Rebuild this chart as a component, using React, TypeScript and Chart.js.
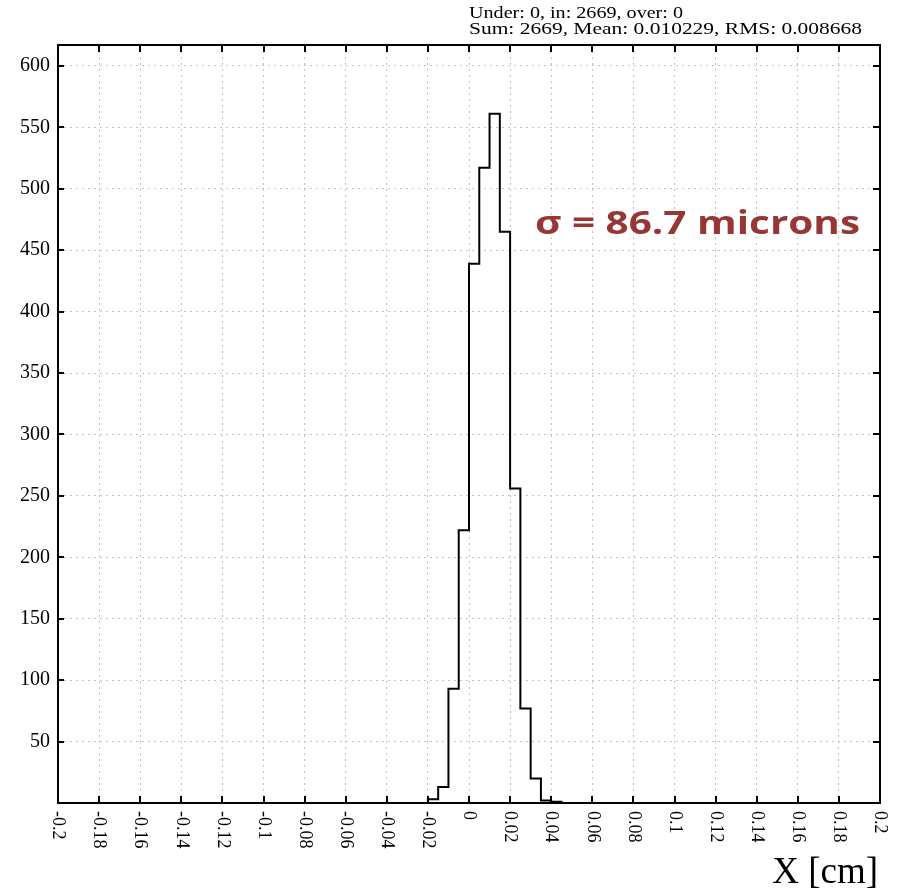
import React, { useEffect, useRef } from 'react';
import { Chart, registerables } from 'chart.js';

Chart.register(...registerables);

// ---- data ----
const binLowEdges = [-0.02, -0.015, -0.01, -0.005, 0, 0.005, 0.01, 0.015, 0.02, 0.025, 0.03, 0.035, 0.04];
const histUpperEdge = 0.045;
const binCounts = [3, 13, 93, 222, 439, 517, 561, 465, 256, 77, 20, 2, 1];

const xTickValues = [-0.2, -0.18, -0.16, -0.14, -0.12, -0.1, -0.08, -0.06, -0.04, -0.02, 0, 0.02, 0.04, 0.06, 0.08, 0.1, 0.12, 0.14, 0.16, 0.18, 0.2];
const xTickLabels = ['-0.2', '-0.18', '-0.16', '-0.14', '-0.12', '-0.1', '-0.08', '-0.06', '-0.04', '-0.02', '0', '0.02', '0.04', '0.06', '0.08', '0.1', '0.12', '0.14', '0.16', '0.18', '0.2'];
const yTickValues = [50, 100, 150, 200, 250, 300, 350, 400, 450, 500, 550, 600];

const statsLines = ['Under: 0, in: 2669, over: 0', 'Sum: 2669, Mean: 0.010229, RMS: 0.008668'];
const annotationText = 'σ = 86.7 microns';
const xTitle = 'X [cm]';

const SERIF = '"Liberation Serif", "DejaVu Serif", serif';

function fillFitted(ctx: CanvasRenderingContext2D, text: string, x: number, y: number, width: number) {
  const w = ctx.measureText(text).width;
  ctx.save();
  ctx.translate(x, y);
  ctx.scale(width / w, 1);
  ctx.fillText(text, 0, 0);
  ctx.restore();
}

const framePlugin = {
  id: 'rootFrame',
  afterDraw(chart: any) {
    const { ctx, chartArea } = chart;
    const { left, right, top, bottom } = chartArea;
    const xs = chart.scales.x;
    const ys = chart.scales.y;
    ctx.save();
    ctx.strokeStyle = '#000';
    ctx.lineWidth = 2;
    ctx.strokeRect(left, top, right - left, bottom - top);
    // inward ticks
    ctx.beginPath();
    xTickValues.forEach((v) => {
      const px = Math.round(xs.getPixelForValue(v));
      ctx.moveTo(px, bottom);
      ctx.lineTo(px, bottom - 7);
      ctx.moveTo(px, top);
      ctx.lineTo(px, top + 7);
    });
    yTickValues.forEach((v) => {
      const py = Math.round(ys.getPixelForValue(v));
      ctx.moveTo(left, py);
      ctx.lineTo(left + 6, py);
      ctx.moveTo(right, py);
      ctx.lineTo(right - 7, py);
    });
    ctx.stroke();

    // x tick labels rotated clockwise
    ctx.fillStyle = '#000';
    ctx.font = `18px ${SERIF}`;
    ctx.textAlign = 'left';
    ctx.textBaseline = 'middle';
    xTickValues.forEach((v, i) => {
      const px = xs.getPixelForValue(v);
      ctx.save();
      ctx.translate(px, bottom + 8);
      ctx.rotate(Math.PI / 2);
      ctx.fillText(xTickLabels[i], 0, 0);
      ctx.restore();
    });

    // x title
    ctx.font = `37px ${SERIF}`;
    ctx.textAlign = 'right';
    ctx.textBaseline = 'alphabetic';
    ctx.fillText(xTitle, 878, 883);

    // stats box text
    ctx.font = `16px ${SERIF}`;
    ctx.textAlign = 'left';
    fillFitted(ctx, statsLines[0], 469, 18, 214);
    fillFitted(ctx, statsLines[1], 469, 34, 393);

    // annotation
    ctx.fillStyle = '#973735';
    ctx.font = `bold 33px "Open Sans", "Liberation Sans", sans-serif`;
    fillFitted(ctx, annotationText, 535, 234, 325);
    ctx.restore();
  },
};

export default function App() {
  const ref = useRef<HTMLCanvasElement | null>(null);
  useEffect(() => {
    document.body.style.margin = '0';
    const points = [{ x: binLowEdges[0], y: 0 }]
      .concat(binLowEdges.map((e, i) => ({ x: e, y: binCounts[i] })))
      .concat([{ x: histUpperEdge, y: 0 }]);
    const chart = new Chart(ref.current as HTMLCanvasElement, {
      type: 'line',
      data: {
        datasets: [
          {
            data: points,
            stepped: 'before',
            borderColor: '#000',
            borderWidth: 2,
            pointRadius: 0,
            fill: false,
          } as any,
        ],
      },
      options: {
        animation: false,
        responsive: false,
        layout: { padding: { top: 45, right: 22, left: 0, bottom: 0 } },
        plugins: { legend: { display: false }, tooltip: { enabled: false } },
        scales: {
          x: {
            type: 'linear',
            min: -0.2,
            max: 0.2,
            afterBuildTicks: (s: any) => {
              s.ticks = xTickValues.map((v) => ({ value: v }));
            },
            afterFit: (s: any) => {
              s.height = 88;
            },
            ticks: { display: false },
            grid: { color: '#c4c4c4', lineWidth: 1, drawTicks: false },
            border: { display: false, dash: [2, 4] },
          },
          y: {
            type: 'linear',
            min: 0,
            max: 617,
            afterBuildTicks: (s: any) => {
              s.ticks = yTickValues.map((v) => ({ value: v }));
            },
            afterFit: (s: any) => {
              s.width = 58;
            },
            ticks: {
              color: '#000',
              padding: 8,
              font: { family: SERIF, size: 20 },
            },
            grid: { color: '#c4c4c4', lineWidth: 1, drawTicks: false },
            border: { display: false, dash: [2, 4] },
          },
        },
      },
      plugins: [framePlugin],
    } as any);
    return () => chart.destroy();
  }, []);
  return <canvas ref={ref} width={902} height={891} />;
}
